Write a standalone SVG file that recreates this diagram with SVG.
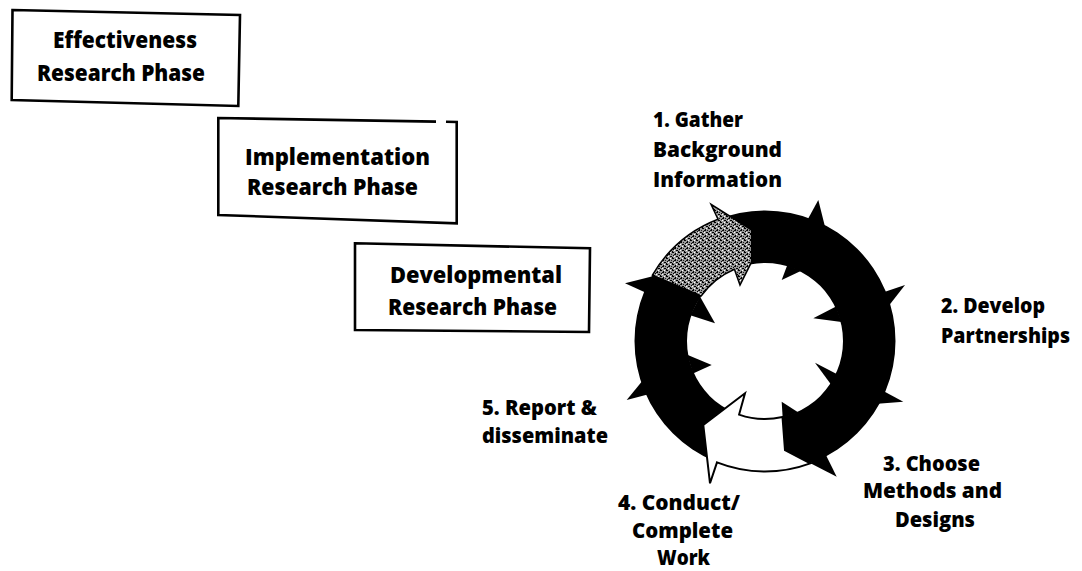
<svg xmlns="http://www.w3.org/2000/svg" width="1082" height="571" viewBox="0 0 1082 571">
<defs>
<pattern id="stipple" width="6" height="6" patternUnits="userSpaceOnUse">
<rect width="6" height="6" fill="#9a9a9a"/>
<rect x="0" y="0" width="2" height="1" fill="#000"/>
<rect x="3" y="1" width="1" height="2" fill="#000"/>
<rect x="1" y="3" width="1" height="1" fill="#000"/>
<rect x="4" y="4" width="2" height="1" fill="#000"/>
<rect x="0" y="5" width="1" height="1" fill="#000"/>
<rect x="2" y="2" width="1" height="1" fill="#111"/>
<rect x="5" y="2" width="1" height="1" fill="#222"/>
<rect x="4" y="0" width="1" height="1" fill="#fff"/>
<rect x="2" y="4" width="1" height="1" fill="#fff"/>
</pattern>
<style>
.box{fill:#fff;stroke:#000;stroke-width:2.6;stroke-linejoin:miter}
.t{font-family:"Open Sans","DejaVu Sans",sans-serif;font-weight:800;fill:#000}
.bt{font-size:23px}
.lt{font-size:21.5px}
.blk{fill:#000}
</style>
</defs>
<rect width="1082" height="571" fill="#fff"/>

<g id="effectiveness-phase">
<polygon class="box" points="12.5,10 240,15 238.3,106 11.7,100"/>
<text class="t bt" x="53" y="48" textLength="144" lengthAdjust="spacingAndGlyphs">Effectiveness</text>
<text class="t bt" x="37" y="81" textLength="168" lengthAdjust="spacingAndGlyphs">Research Phase</text>
</g>

<g id="implementation-phase">
<path class="box" d="M436,121.6 L218.3,118 L218.3,215 L456.7,223.3 L456.7,122 L446,121.8" fill="none"/>
<text class="t bt" x="245" y="165" textLength="185" lengthAdjust="spacingAndGlyphs">Implementation</text>
<text class="t bt" x="247" y="195" textLength="171" lengthAdjust="spacingAndGlyphs">Research Phase</text>
</g>

<g id="developmental-phase">
<polygon class="box" points="355,243.3 590,248.3 589,332 355,330"/>
<text class="t bt" x="390" y="283" textLength="172" lengthAdjust="spacingAndGlyphs">Developmental</text>
<text class="t bt" x="388" y="315" textLength="169" lengthAdjust="spacingAndGlyphs">Research Phase</text>
</g>

<g id="cycle-arrows">
<path class="blk" fill-rule="evenodd" d="M634.5,341 a130.5,130.5 0 1,0 261,0 a130.5,130.5 0 1,0 -261,0 Z M687,341 a78,78 0 1,0 156,0 a78,78 0 1,0 -156,0 Z"/>
<polygon class="blk" points="807.8,219.3 818.3,200 825,226.8"/>
<polygon class="blk" points="884.3,292.1 905,285 889,305.4"/>
<polygon class="blk" points="883.8,391.2 903.3,401.7 877.7,403.7"/>
<polygon class="blk" points="825.8,454.8 836.7,476.7 810,463"/>
<polygon class="blk" points="647.6,394.5 626.7,400 642.3,380.9"/>
<polygon class="blk" points="645.4,292.6 625,283.3 653.7,275.9"/>
<polygon class="blk" points="787.2,265.2 781.7,280 801.3,270.8"/>
<polygon class="blk" points="836,306.4 813.3,318.3 841.6,321.9"/>
<polygon class="blk" points="836.7,374.1 815,362.7 831,384.5"/>
<polygon class="blk" points="798.4,412.6 781.7,401.7 782.7,418"/>
<polygon class="blk" points="693,373.5 711.7,365 687.2,354.8"/>
<polygon class="blk" points="690.3,315.3 715,323.3 700,296.5"/>
<path id="arrow-gather" fill="url(#stipple)" stroke="#000" stroke-width="1.5" stroke-linejoin="miter" d="M652.4,275.1 A130.5,130.5 0 0,1 718,219.2 L711,204.3 L751.7,230 L751.7,261.7 L740,285 L734.4,269.2 A78,78 0 0,0 701.3,295.9 Z"/>
<path id="arrow-conduct" fill="#fff" stroke="#000" stroke-width="2" stroke-linejoin="miter" d="M785,450 L810.3,463.4 A130.5,130.5 0 0,1 717,462.4 L710,483.3 L703.3,425 L745,393.3 L739.1,414.6 A78,78 0 0,0 782.5,417 Z"/>
</g>

<g id="step1-label">
<text class="t lt" x="653" y="127" textLength="90" lengthAdjust="spacingAndGlyphs">1. Gather</text>
<text class="t lt" x="653" y="157" textLength="129" lengthAdjust="spacingAndGlyphs">Background</text>
<text class="t lt" x="653" y="187" textLength="129" lengthAdjust="spacingAndGlyphs">Information</text>
</g>
<g id="step2-label">
<text class="t lt" x="941" y="313" textLength="104" lengthAdjust="spacingAndGlyphs">2. Develop</text>
<text class="t lt" x="941" y="343" textLength="129" lengthAdjust="spacingAndGlyphs">Partnerships</text>
</g>
<g id="step3-label">
<text class="t lt" x="883" y="471" textLength="97" lengthAdjust="spacingAndGlyphs">3. Choose</text>
<text class="t lt" x="863" y="498" textLength="139" lengthAdjust="spacingAndGlyphs">Methods and</text>
<text class="t lt" x="895" y="527" textLength="80" lengthAdjust="spacingAndGlyphs">Designs</text>
</g>
<g id="step4-label">
<text class="t lt" x="618" y="510" textLength="122" lengthAdjust="spacingAndGlyphs">4. Conduct/</text>
<text class="t lt" x="632" y="538" textLength="101" lengthAdjust="spacingAndGlyphs">Complete</text>
<text class="t lt" x="657" y="565" textLength="53" lengthAdjust="spacingAndGlyphs">Work</text>
</g>
<g id="step5-label">
<text class="t lt" x="482" y="415" textLength="115" lengthAdjust="spacingAndGlyphs">5. Report &amp;</text>
<text class="t lt" x="482" y="443" textLength="126" lengthAdjust="spacingAndGlyphs">disseminate</text>
</g>
</svg>
